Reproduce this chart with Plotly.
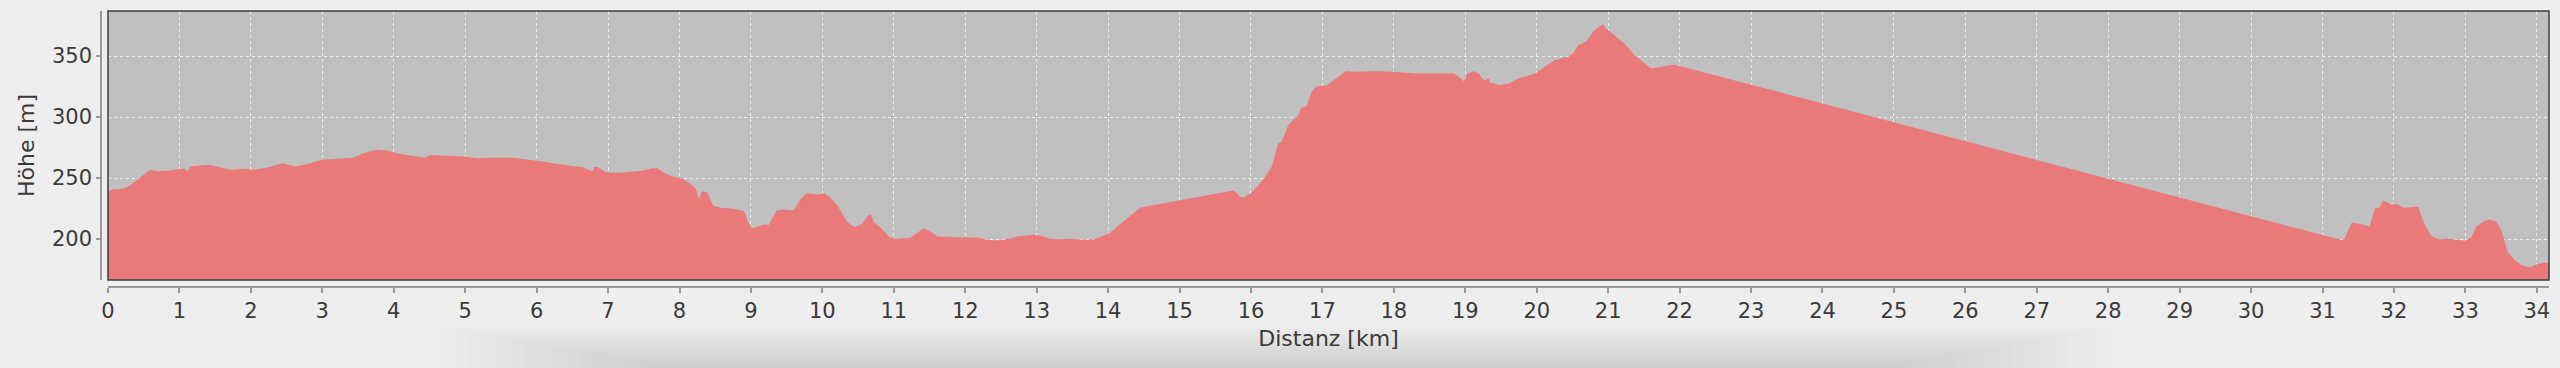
import plotly.graph_objects as go

dist_km = [
    0.0, 0.05, 0.21, 0.29, 0.43, 0.59, 0.69, 0.88, 1.02, 1.08, 1.11, 1.15, 1.42, 1.55, 1.71,
    1.93, 2.03, 2.25, 2.44, 2.62, 2.81, 3.0, 3.27, 3.43, 3.59, 3.75, 3.91, 4.07, 4.23,
    4.45, 4.50, 4.71, 4.98, 5.17, 5.30, 5.68, 5.84, 6.05, 6.27, 6.43, 6.65, 6.75, 6.78,
    6.81, 6.88, 6.96, 7.18, 7.50, 7.61, 7.69, 7.77, 7.90, 8.04,
    8.15, 8.23, 8.27, 8.31, 8.39, 8.47, 8.58, 8.74, 8.90, 8.95, 9.01, 9.09, 9.20, 9.25,
    9.36, 9.46, 9.60, 9.70, 9.78, 9.95, 10.03, 10.11, 10.21, 10.35, 10.45, 10.56, 10.64,
    10.68, 10.72, 10.83, 10.94, 11.02, 11.23, 11.34, 11.42, 11.53, 11.61, 11.87, 12.20,
    12.30, 12.41, 12.54, 12.73, 12.95, 13.05, 13.19, 13.32, 13.48, 13.64, 13.80, 14.02,
    14.23, 14.45, 14.98, 15.76, 15.85, 15.90, 15.99,
    16.11, 16.20, 16.29, 16.38, 16.43, 16.52, 16.57, 16.66, 16.71, 16.78, 16.85, 16.92,
    17.06, 17.13, 17.22, 17.33, 17.47, 17.75, 17.98, 18.31, 18.54, 18.84, 18.91, 18.98,
    19.03, 19.12, 19.19, 19.26, 19.33, 19.35, 19.49, 19.61, 19.74, 19.88, 19.98, 20.11,
    20.25, 20.44, 20.51, 20.58, 20.69, 20.79, 20.86, 20.93, 20.97, 21.09, 21.25, 21.37,
    21.46, 21.60, 21.78, 21.92, 22.01,
    31.27, 31.31, 31.41, 31.55, 31.66, 31.73, 31.80, 31.84, 31.90, 31.96, 32.03, 32.13,
    32.34, 32.37, 32.44, 32.52, 32.64, 32.73, 32.99, 33.08, 33.15, 33.27, 33.34, 33.43,
    33.50, 33.59, 33.69, 33.78, 33.90, 34.0, 34.08, 34.17,
]
elev_m = [
    238.5, 240.7, 241.3, 243.4, 249.5, 256.8, 255.7, 256.3, 257.7, 257.7, 254.9, 259.8, 260.9, 259.0, 256.8,
    257.7, 256.8, 259.0, 262.3, 259.6, 261.7, 265.0, 266.4, 266.7, 270.5, 273.2, 272.7, 269.9, 268.6,
    266.7, 268.9, 268.6, 267.8, 266.4, 266.7, 266.7, 265.6, 263.9, 261.7, 260.4, 259.0, 256.3, 255.5,
    259.6, 258.5, 254.9, 254.4, 256.3, 258.2, 258.2, 254.9, 251.4, 249.5,
    245.4, 241.3, 232.2, 239.1, 238.5, 227.6, 225.7, 224.9, 223.0, 215.3, 208.5, 210.4, 212.0, 211.5,
    223.5, 224.3, 223.5, 233.1, 237.7, 236.6, 237.7, 234.4, 227.6, 213.9, 209.8, 212.6, 219.4,
    220.2, 213.9, 208.5, 201.6, 200.3, 201.1, 205.7, 209.0, 205.7, 202.2, 201.6, 201.1,
    199.5, 198.9, 199.5, 202.2, 203.6, 203.0, 200.3, 200.0, 200.3, 199.5, 199.7, 204.9,
    215.3, 225.7, 231.7, 239.9, 234.7, 234.2, 237.3,
    244.3, 251.1, 259.3, 278.4, 279.8, 293.4, 296.2, 301.6, 307.9, 309.0, 320.8, 325.4,
    326.2, 329.0, 333.1, 337.7, 337.2, 337.7, 337.2, 335.8, 335.8, 335.8, 333.1, 329.5,
    335.8, 337.7, 335.8, 329.8, 331.7, 328.1, 326.2, 327.6, 331.7, 334.4, 335.8, 341.3,
    346.7, 349.5, 352.2, 359.0, 361.7, 369.9, 373.5, 376.2, 372.7, 367.2, 359.0, 350.8,
    346.7, 339.9, 341.8, 343.2, 341.8,
    199.2, 200.5, 213.7, 212.3, 210.1, 225.1, 226.0, 231.4, 230.6, 227.9, 229.2, 225.7,
    226.5, 221.0, 210.7, 202.5, 199.7, 200.5, 198.6, 201.4, 210.1, 215.0, 216.1, 214.2,
    207.9, 189.6, 182.8, 178.7, 176.8, 179.5, 180.6, 180.6,
]

x_ticks = list(range(0, 35))
y_ticks = [200, 250, 300, 350]
x_range = [0, 34.17]
y_range = [166.5, 387.0]

W, H = 2560, 368
ML, MR, MT, MB = 101, 11, 11, 81
PW, PH = W - ML - MR, H - MT - MB
BASE = MT + PH  # pixel row of paper y = 0

TXT = "#3a3a3a"
FONT = "DejaVu Sans"


def py(p):
    return (BASE - p) / PH


def px(p):
    return (p - ML) / PW


fig = go.Figure()
fig.add_trace(go.Scatter(
    x=dist_km, y=elev_m,
    mode="lines",
    line=dict(color="rgba(236,114,114,0.0)", width=0),
    fill="tozeroy",
    fillcolor="rgba(236,116,116,0.94)",
    hoverinfo="skip",
    showlegend=False,
))

shapes = []
# soft shadow at the bottom of the window
for i in range(16):
    shapes.append(dict(
        type="rect", xref="paper", yref="paper",
        x0=px(440 + i * 14), x1=px(2110 - i * 14),
        y0=py(326 + i * 2.6), y1=py(372),
        fillcolor="rgba(0,0,0,0.0065)", line=dict(width=0), layer="below",
    ))
# plot border
shapes.append(dict(
    type="rect", xref="x domain", yref="y domain",
    x0=0, x1=1, y0=0, y1=1,
    line=dict(color="#3c3c3c", width=1.5), layer="above",
))

fig.update_layout(
    width=W, height=H,
    margin=dict(l=ML, r=MR, t=MT, b=MB, pad=0),
    paper_bgcolor="#eeeeee",
    plot_bgcolor="#c0c0c0",
    font=dict(family=FONT, size=21, color=TXT),
    shapes=shapes,
    xaxis=dict(
        domain=[7 / PW, 1],
        range=x_range,
        tickvals=x_ticks,
        ticktext=[str(v) for v in x_ticks],
        anchor="free", position=0,
        showline=True, linecolor="#9a9a9a", linewidth=1.5,
        ticks="outside", ticklen=5, tickwidth=1.5, tickcolor="#9a9a9a",
        tickfont=dict(family=FONT, size=21, color=TXT),
        showgrid=True, gridcolor="rgba(245,245,245,0.85)", gridwidth=1, griddash="3px,3px",
        zeroline=False,
        title=dict(text="Distanz [km]", font=dict(family=FONT, size=22, color=TXT), standoff=8),
        fixedrange=True,
    ),
    yaxis=dict(
        domain=[7 / PH, 1],
        range=y_range,
        tickvals=y_ticks,
        ticktext=[str(v) for v in y_ticks],
        anchor="free", position=0,
        showline=True, linecolor="#9a9a9a", linewidth=1.5,
        ticks="outside", ticklen=4, tickwidth=1.5, tickcolor="#9a9a9a",
        tickfont=dict(family=FONT, size=21, color=TXT),
        showgrid=True, gridcolor="rgba(245,245,245,0.85)", gridwidth=1, griddash="3px,3px",
        zeroline=False,
        title=dict(text="Höhe [m]", font=dict(family=FONT, size=22, color=TXT), standoff=10),
        fixedrange=True,
    ),
)

fig.write_html("out.html", config={"displayModeBar": False})
